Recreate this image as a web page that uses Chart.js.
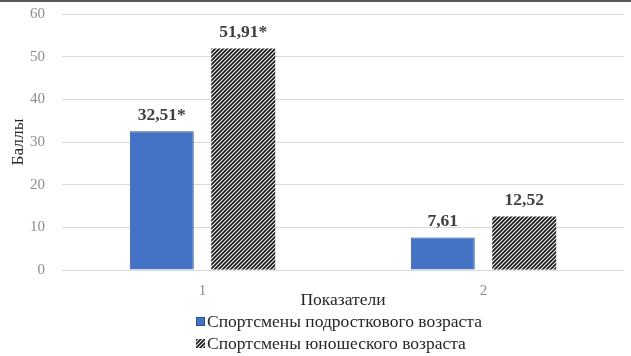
<!DOCTYPE html>
<html lang="ru">
<head>
    <meta charset="UTF-8">
    <title>Баллы по показателям</title>
    <script src="https://cdn.jsdelivr.net/npm/chart.js"></script>
    <style>
        html, body { margin: 0; padding: 0; background: #fff; }
        .chart-box { width: 631px; height: 356px; position: relative; }
    </style>
</head>
<body>
    <div class="chart-box">
        <canvas id="myChart"></canvas>
    </div>

    <script>
        // data
        const categories = ['1', '2'];
        const teenScores = [32.51, 7.61];
        const youthScores = [51.91, 12.52];
        const teenMarks = ['*', ''];
        const youthMarks = ['*', ''];
        const seriesNames = ['Спортсмены подросткового возраста', 'Спортсмены юношеского возраста'];
        const yTicks = [0, 10, 20, 30, 40, 50, 60];

        const serif = '"Liberation Serif", "DejaVu Serif", serif';

        // diagonal hatch fill like the Excel pattern
        function makeHatch() {
            const c = document.createElement('canvas');
            c.width = 4; c.height = 4;
            const g = c.getContext('2d');
            g.fillStyle = '#fff';
            g.fillRect(0, 0, 4, 4);
            g.strokeStyle = '#1a1a1a';
            g.lineWidth = 1.8;
            g.beginPath();
            g.moveTo(-1, 5); g.lineTo(5, -1);
            g.moveTo(-1, 1); g.lineTo(1, -1);
            g.moveTo(3, 5); g.lineTo(5, 3);
            g.stroke();
            return g.createPattern(c, 'repeat');
        }
        const hatch = makeHatch();

        const fmt = v => v.toFixed(2).replace('.', ',');

        // value labels above bars
        const valueLabels = {
            id: 'valueLabels',
            afterDatasetsDraw(chart) {
                const ctx = chart.ctx;
                ctx.save();
                ctx.font = 'bold 17.5px ' + serif;
                ctx.fillStyle = '#404040';
                ctx.textAlign = 'center';
                ctx.textBaseline = 'bottom';
                chart.data.datasets.forEach((ds, i) => {
                    chart.getDatasetMeta(i).data.forEach((bar, j) => {
                        ctx.fillText(fmt(ds.data[j]) + ds.marks[j], bar.x, bar.y - 7);
                    });
                });
                ctx.restore();
            }
        };

        // two-row legend under the axis title, plus top frame line
        const stackedLegend = {
            id: 'stackedLegend',
            afterDraw(chart) {
                const ctx = chart.ctx;
                const area = chart.chartArea;
                ctx.save();
                ctx.fillStyle = '#5a5a5a';
                ctx.fillRect(0, 0, chart.width, 2);

                ctx.font = '17.5px ' + serif;
                const widths = chart.data.datasets.map(ds => ctx.measureText(ds.label).width);
                const blockW = 11 + Math.max(...widths);
                const x0 = Math.round((area.left + area.right) / 2 - 4 - blockW / 2);
                const rows = [322, 344];
                ctx.textBaseline = 'middle';
                ctx.textAlign = 'left';
                chart.data.datasets.forEach((ds, i) => {
                    const y = rows[i];
                    ctx.fillStyle = ds.backgroundColor;
                    ctx.fillRect(x0, y - 5, 9, 9);
                    if (ds.borderWidth) {
                        ctx.strokeStyle = ds.borderColor;
                        ctx.lineWidth = 1;
                        ctx.strokeRect(x0 + 0.5, y - 4.5, 8, 8);
                    }
                    ctx.fillStyle = '#262626';
                    ctx.fillText(ds.label, x0 + 11, y);
                });
                ctx.restore();
            }
        };

        const ctx = document.getElementById('myChart').getContext('2d');
        const myChart = new Chart(ctx, {
            type: 'bar',
            data: {
                labels: categories,
                datasets: [{
                    label: seriesNames[0],
                    data: teenScores,
                    marks: teenMarks,
                    backgroundColor: '#4472c4',
                    borderColor: '#2f528f',
                    borderWidth: 1,
                }, {
                    label: seriesNames[1],
                    data: youthScores,
                    marks: youthMarks,
                    backgroundColor: hatch,
                    borderWidth: 0,
                }],
            },
            options: {
                responsive: true,
                maintainAspectRatio: false,
                animation: false,
                layout: { padding: { top: 2, right: 7, bottom: 45, left: 8 } },
                datasets: {
                    bar: { categoryPercentage: 0.58, barPercentage: 0.785 }
                },
                plugins: {
                    legend: { display: false },
                    tooltip: { enabled: false },
                },
                scales: {
                    x: {
                        grid: { display: false, drawTicks: true, tickLength: 12, tickColor: 'transparent' },
                        border: { display: false },
                        ticks: { color: '#8c8c8c', padding: 0, font: { family: serif, size: 15 } },
                        title: {
                            display: true,
                            text: 'Показатели',
                            color: '#262626',
                            font: { family: serif, size: 17.5 },
                            padding: { top: -10, bottom: 0 },
                        },
                    },
                    y: {
                        min: 0,
                        max: 60,
                        afterBuildTicks: axis => { axis.ticks = yTicks.map(v => ({ value: v })); },
                        grid: { color: '#d9d9d9', drawTicks: true, tickLength: 12, tickColor: 'transparent' },
                        border: { display: false },
                        ticks: { color: '#8c8c8c', padding: 5, font: { family: serif, size: 15 } },
                        title: {
                            display: true,
                            text: 'Баллы',
                            color: '#262626',
                            font: { family: serif, size: 17.5 },
                            padding: { top: 0, bottom: -4 },
                        },
                    },
                },
            },
            plugins: [valueLabels, stackedLegend],
        });
    </script>
</body>
</html>
